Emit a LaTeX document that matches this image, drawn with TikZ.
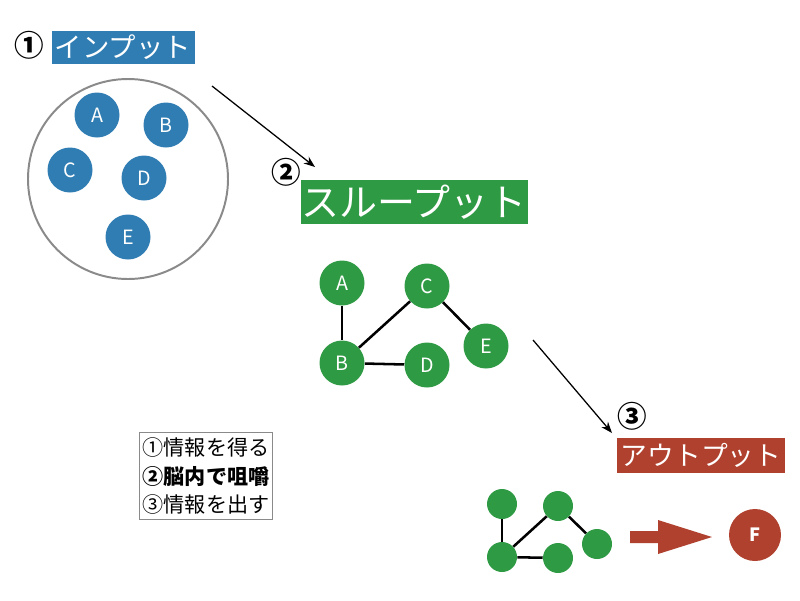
\documentclass[tikz,border=0pt]{standalone}
\usepackage{fontspec}
\setmainfont{Noto Sans CJK JP}
\usepackage{xcolor}
\usetikzlibrary{arrows.meta}
\definecolor{inblue}{HTML}{2F7DB2}
\definecolor{thgreen}{HTML}{2F9A44}
\definecolor{outred}{HTML}{B0412F}
\definecolor{ringgray}{HTML}{8A8A8A}

\begin{document}
\begin{tikzpicture}[x=0.025cm,y=-0.025cm,
  inball/.style={circle,fill=inblue,text=white,minimum size=45*0.025cm,inner sep=0pt,font=\fontsize{14}{16}\selectfont},
  thball/.style={circle,fill=thgreen,text=white,minimum size=45*0.025cm,inner sep=0pt,font=\fontsize{14}{16}\selectfont},
  dot/.style={circle,fill=thgreen,minimum size=30*0.025cm,inner sep=0pt},
  titlebox/.style={text=white,inner sep=0pt,minimum height=#1*0.025cm},
  num/.style={font=\bfseries\fontsize{21}{24}\selectfont},
  arr/.style={-{Stealth[length=8pt,width=6pt]},line width=0.9pt},
  edge/.style={line width=1.8pt}
]
\useasboundingbox (0,0) rectangle (800,600);

% input
\node[num] (n1) at (29,45) {①};
\node[titlebox=33,fill=inblue,minimum width=143*0.025cm,font=\fontsize{19.5}{24}\selectfont] (tin) at (123,47) {インプット};
\node[circle,draw=ringgray,line width=1.4pt,minimum size=200*0.025cm] (ring) at (128,179) {};
\node[inball] (ia) at (97,115) {A};
\node[inball] (ib) at (166,125) {B};
\node[inball] (ic) at (70,170) {C};
\node[inball] (id) at (144,178) {D};
\node[inball] (ie) at (128,237) {E};

\coordinate (a1s) at (212,86);
\coordinate (a1e) at (315,167);
\draw[arr] (a1s) -- (a1e);

% throughput
\node[num] (n2) at (286,172) {②};
\node[titlebox=44,fill=thgreen,minimum width=227*0.025cm,font=\fontsize{27}{30}\selectfont] (tth) at (414,202) {スループット};
\node[thball] (ta) at (342,283) {A};
\node[thball] (tc) at (427,286) {C};
\node[thball] (tb) at (342,363) {B};
\node[thball] (td) at (427,365) {D};
\node[thball] (te) at (486,346) {E};
\draw[edge] (ta) -- (tb);
\draw[edge] (tb) -- (tc);
\draw[edge] (tc) -- (te);
\draw[edge] (tb) -- (td);

\coordinate (a2s) at (533,340);
\coordinate (a2e) at (612,433);
\draw[arr] (a2s) -- (a2e);

% output
\node[num] (n3) at (632,416) {③};
\node[titlebox=35,fill=outred,minimum width=168*0.025cm,font=\fontsize{19}{24}\selectfont] (tout) at (701,455) {アウトプット};
\node[dot] (d1) at (502,504) {};
\node[dot] (d2) at (558,506) {};
\node[dot] (d3) at (597,544) {};
\node[dot] (d4) at (502,557) {};
\node[dot] (d5) at (558,558) {};
\draw[edge] (d1) -- (d4);
\draw[edge] (d4) -- (d2);
\draw[edge] (d2) -- (d3);
\draw[edge] (d4) -- (d5);
\fill[outred] (630,531) -- (658,531) -- (658,520) -- (712,537) -- (658,554) -- (658,543) -- (630,543) -- cycle;
\node[circle,fill=outred,text=white,minimum size=52*0.025cm,inner sep=0pt,font=\bfseries\fontsize{13}{15}\selectfont] (f) at (755,535) {F};

% legend
\node[draw=ringgray,line width=1.4pt,minimum width=133*0.025cm,minimum height=87*0.025cm,align=left,inner sep=2pt,font=\fontsize{15}{20}\selectfont] (legend) at (206,476)
  {①情報を得る\\{\bfseries ②脳内で咀嚼}\\③情報を出す};
\end{tikzpicture}
\end{document}
